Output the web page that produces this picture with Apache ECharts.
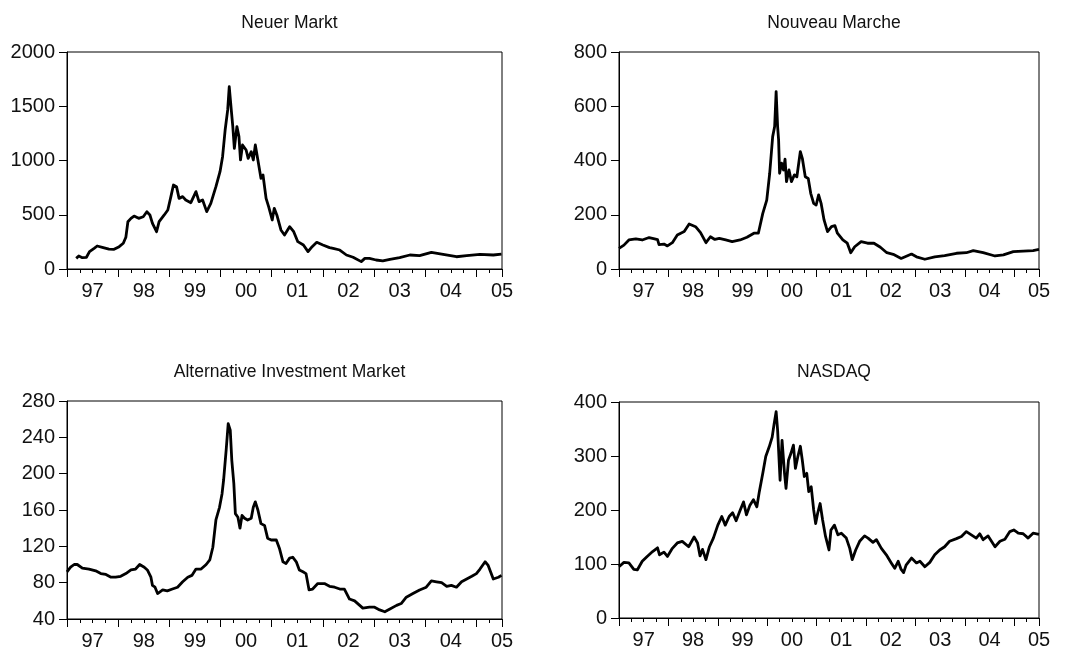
<!DOCTYPE html>
<html>
<head>
<meta charset="utf-8">
<script src="https://cdn.jsdelivr.net/npm/echarts@6/dist/echarts.min.js"></script>
<style>
  html, body { margin: 0; padding: 0; background: #fff; }
  #main { width: 1071px; height: 651px; }
</style>
</head>
<body>
<div id="main"></div>
<script>
// ---- data (decimal years, index levels) ----
var titles = ['Neuer Markt', 'Nouveau Marche', 'Alternative Investment Market', 'NASDAQ'];

var nmDates = [1997.18,1997.23,1997.30,1997.38,1997.44,1997.53,1997.59,1997.69,1997.82,1997.92,
  1998.02,1998.10,1998.15,1998.19,1998.25,1998.31,1998.40,1998.49,1998.56,1998.62,1998.67,1998.75,
  1998.80,1998.90,1998.97,1999.03,1999.08,1999.14,1999.19,1999.26,1999.32,1999.42,1999.52,1999.58,
  1999.65,1999.73,1999.81,1999.91,1999.99,2000.04,2000.09,2000.14,2000.17,2000.21,2000.24,2000.27,
  2000.32,2000.36,2000.39,2000.43,2000.50,2000.54,2000.60,2000.64,2000.68,2000.73,2000.79,2000.83,
  2000.89,2000.94,2001.01,2001.05,2001.10,2001.18,2001.25,2001.35,2001.43,2001.51,2001.62,2001.71,
  2001.79,2001.88,2002.00,2002.13,2002.20,2002.33,2002.46,2002.59,2002.75,2002.82,2002.91,2003.04,
  2003.17,2003.31,2003.50,2003.70,2003.89,2004.12,2004.35,2004.61,2004.81,2005.07,2005.33,2005.49];
var nmValues = [98,120,104,108,160,190,212,200,184,181,
  206,237,292,436,467,488,467,482,528,498,421,344,
  436,498,544,667,774,759,651,667,636,611,713,621,
  636,529,605,759,897,1035,1281,1466,1680,1466,1312,1112,
  1312,1220,1005,1143,1097,1020,1081,1005,1143,1005,836,866,
  651,575,452,559,498,360,313,390,344,252,221,160,
  206,246,221,197,190,175,129,108,68,98,98,83,
  74,89,104,129,123,154,135,113,123,135,129,138];

var nvDates = [1997.00,1997.10,1997.20,1997.34,1997.47,1997.61,1997.72,1997.78,1997.81,1997.91,
  1997.98,1998.08,1998.18,1998.25,1998.32,1998.42,1998.55,1998.65,1998.76,1998.85,1998.94,1999.03,
  1999.16,1999.29,1999.45,1999.59,1999.73,1999.82,1999.91,1999.99,2000.05,2000.11,2000.15,2000.18,
  2000.21,2000.23,2000.25,2000.29,2000.33,2000.36,2000.39,2000.44,2000.49,2000.55,2000.60,2000.67,
  2000.71,2000.77,2000.83,2000.88,2000.94,2000.99,2001.04,2001.09,2001.15,2001.22,2001.30,2001.37,
  2001.42,2001.53,2001.62,2001.69,2001.77,2001.90,2002.03,2002.16,2002.29,2002.42,2002.55,2002.71,
  2002.92,2003.02,2003.19,2003.39,2003.59,2003.83,2004.03,2004.17,2004.37,2004.61,2004.78,2004.98,
  2005.18,2005.38,2005.50];
var nvValues = [76,88,107,111,107,116,111,108,90,92,
  85,97,125,132,138,166,156,134,97,119,109,113,
  107,101,107,117,132,132,205,254,353,488,525,654,
  525,476,353,390,365,405,322,365,322,347,340,433,
  408,340,334,279,242,236,273,242,181,138,156,160,
  132,107,95,60,82,101,95,95,80,60,54,39,
  55,45,36,45,49,58,60,68,60,48,52,64,
  66,68,72];

var aimDates = [1997.00,1997.07,1997.14,1997.20,1997.30,1997.43,1997.56,1997.66,1997.76,1997.86,
  1997.95,1998.05,1998.15,1998.25,1998.34,1998.42,1998.51,1998.57,1998.64,1998.67,1998.72,1998.77,
  1998.87,1998.96,1999.06,1999.16,1999.26,1999.36,1999.44,1999.52,1999.62,1999.72,1999.79,1999.85,
  1999.91,1999.98,2000.03,2000.06,2000.11,2000.15,2000.19,2000.22,2000.26,2000.29,2000.34,2000.38,
  2000.42,2000.47,2000.53,2000.60,2000.64,2000.68,2000.73,2000.79,2000.86,2000.92,2000.99,2001.09,
  2001.15,2001.22,2001.28,2001.35,2001.41,2001.48,2001.54,2001.61,2001.67,2001.73,2001.80,2001.90,
  2002.03,2002.13,2002.23,2002.33,2002.42,2002.52,2002.62,2002.72,2002.78,2002.91,2003.01,2003.11,
  2003.21,2003.31,2003.44,2003.53,2003.63,2003.76,2003.89,2004.02,2004.12,2004.22,2004.32,2004.42,
  2004.51,2004.61,2004.71,2004.81,2004.91,2005.00,2005.07,2005.17,2005.23,2005.33,2005.43,2005.49];
var aimValues = [92,97,100,100,96,95,93,90,89,86,
  86,87,90,94,95,100,97,94,86,77,75,68,
  72,71,73,75,81,86,88,95,95,100,105,119,
  149,163,178,193,226,255,248,215,189,156,152,140,
  154,151,149,151,163,169,160,145,143,129,127,127,
  118,103,101,107,108,103,94,92,90,72,73,79,
  79,76,75,73,73,62,60,55,52,53,53,50,
  48,51,55,57,64,68,72,75,82,81,80,76,
  77,75,81,84,87,90,95,103,99,84,86,88];

var nqDates = [1997.00,1997.10,1997.20,1997.30,1997.37,1997.47,1997.57,1997.68,1997.78,1997.82,
  1997.91,1997.98,1998.08,1998.18,1998.28,1998.41,1998.52,1998.59,1998.64,1998.69,1998.76,1998.83,
  1998.91,1999.00,1999.08,1999.15,1999.23,1999.30,1999.37,1999.45,1999.52,1999.58,1999.65,1999.72,
  1999.79,1999.84,1999.91,1999.97,2000.04,2000.10,2000.14,2000.18,2000.21,2000.26,2000.30,2000.35,
  2000.38,2000.43,2000.48,2000.53,2000.57,2000.62,2000.67,2000.71,2000.75,2000.80,2000.84,2000.89,
  2000.94,2000.98,2001.02,2001.07,2001.12,2001.18,2001.25,2001.29,2001.36,2001.43,2001.50,2001.60,
  2001.67,2001.72,2001.79,2001.87,2001.97,2002.04,2002.14,2002.21,2002.31,2002.41,2002.51,2002.58,
  2002.65,2002.71,2002.76,2002.81,2002.92,2003.02,2003.09,2003.19,2003.29,2003.39,2003.49,2003.59,
  2003.69,2003.83,2003.93,2004.03,2004.13,2004.23,2004.30,2004.37,2004.47,2004.61,2004.71,2004.81,
  2004.91,2004.99,2005.08,2005.18,2005.28,2005.38,2005.50];
var nqValues = [95,103,102,90,89,105,114,123,130,117,
  122,114,129,139,142,132,150,139,115,127,108,132,
  148,172,188,172,188,195,180,199,215,191,209,219,
  206,234,268,299,317,335,360,382,348,255,329,268,
  240,292,305,320,277,299,318,292,262,268,234,243,
  200,175,194,212,182,151,126,163,172,154,157,148,
  129,108,126,142,152,148,140,145,129,117,102,92,
  105,90,84,98,111,102,105,95,103,117,126,132,
  142,147,151,160,154,148,156,145,152,132,142,146,
  160,163,157,156,148,157,155];

var yMin = [0, 0, 40, 0];
var yMax = [2000, 800, 280, 400];
var yStep = [500, 200, 40, 100];

var seriesDates = [nmDates, nvDates, aimDates, nqDates];
var seriesValues = [nmValues, nvValues, aimValues, nqValues];

// ---- layout ----
var grids = [
  {left: 67, top: 52, width: 435, height: 217},
  {left: 619, top: 52, width: 420, height: 217},
  {left: 67, top: 401, width: 435, height: 218},
  {left: 619, top: 402, width: 420, height: 216}
];
var titleTops = [9, 9, 358, 358];
var FONT = "'Liberation Sans', Arial, sans-serif";

var myChart = echarts.init(document.getElementById('main'), null, {renderer: 'canvas'});

var option = {
  backgroundColor: '#fff',
  animation: false,
  title: [],
  grid: [],
  xAxis: [],
  yAxis: [],
  series: []
};

grids.forEach(function (g, i) {
  option.grid.push({
    left: g.left, top: g.top, width: g.width, height: g.height,
    show: true, borderColor: '#000', borderWidth: 1, backgroundColor: '#fff'
  });
  option.title.push({
    text: titles[i],
    left: g.left + g.width / 2,
    top: titleTops[i],
    textAlign: 'center',
    textStyle: {fontFamily: FONT, fontSize: 17.5, fontWeight: 'normal', color: '#111'}
  });
  // year ticks with quarterly minor ticks
  option.xAxis.push({
    type: 'value', gridIndex: i, position: 'bottom', min: 1997, max: 2005.5, interval: 1,
    axisLine: {show: true, lineStyle: {color: '#000', width: 1}},
    axisTick: {show: true, inside: false, length: 8, lineStyle: {color: '#000'}},
    minorTick: {show: true, splitNumber: 4, length: 4, lineStyle: {color: '#000'}},
    axisLabel: {show: false},
    splitLine: {show: false}
  });
  // mid-year labels
  option.xAxis.push({
    type: 'value', gridIndex: i, position: 'bottom', offset: 0, min: 1997, max: 2005.5, interval: 0.5,
    axisLine: {show: false}, axisTick: {show: false}, splitLine: {show: false},
    axisLabel: {
      show: true, margin: 12, showMaxLabel: true, showMinLabel: true,
      fontFamily: FONT, fontSize: 20, color: '#111',
      formatter: function (v) {
        var f = v - Math.floor(v);
        if (Math.abs(f - 0.5) < 1e-6) return String(Math.floor(v)).slice(2);
        return '';
      }
    }
  });
  option.yAxis.push({
    type: 'value', gridIndex: i, min: yMin[i], max: yMax[i], interval: yStep[i],
    axisLine: {show: true, lineStyle: {color: '#000', width: 1}},
    axisTick: {show: true, inside: false, length: 8, lineStyle: {color: '#000'}},
    axisLabel: {
      margin: 12, fontFamily: FONT, fontSize: 20, color: '#111',
      formatter: function (v) { return String(v); }
    },
    splitLine: {show: false}
  });
  var dates = seriesDates[i], vals = seriesValues[i];
  option.series.push({
    type: 'line', name: titles[i],
    xAxisIndex: i * 2, yAxisIndex: i,
    data: dates.map(function (d, k) { return [d, vals[k]]; }),
    showSymbol: false, symbol: 'none',
    lineStyle: {color: '#000', width: 2.8, join: 'round'}
  });
});

myChart.setOption(option);
</script>
</body>
</html>
